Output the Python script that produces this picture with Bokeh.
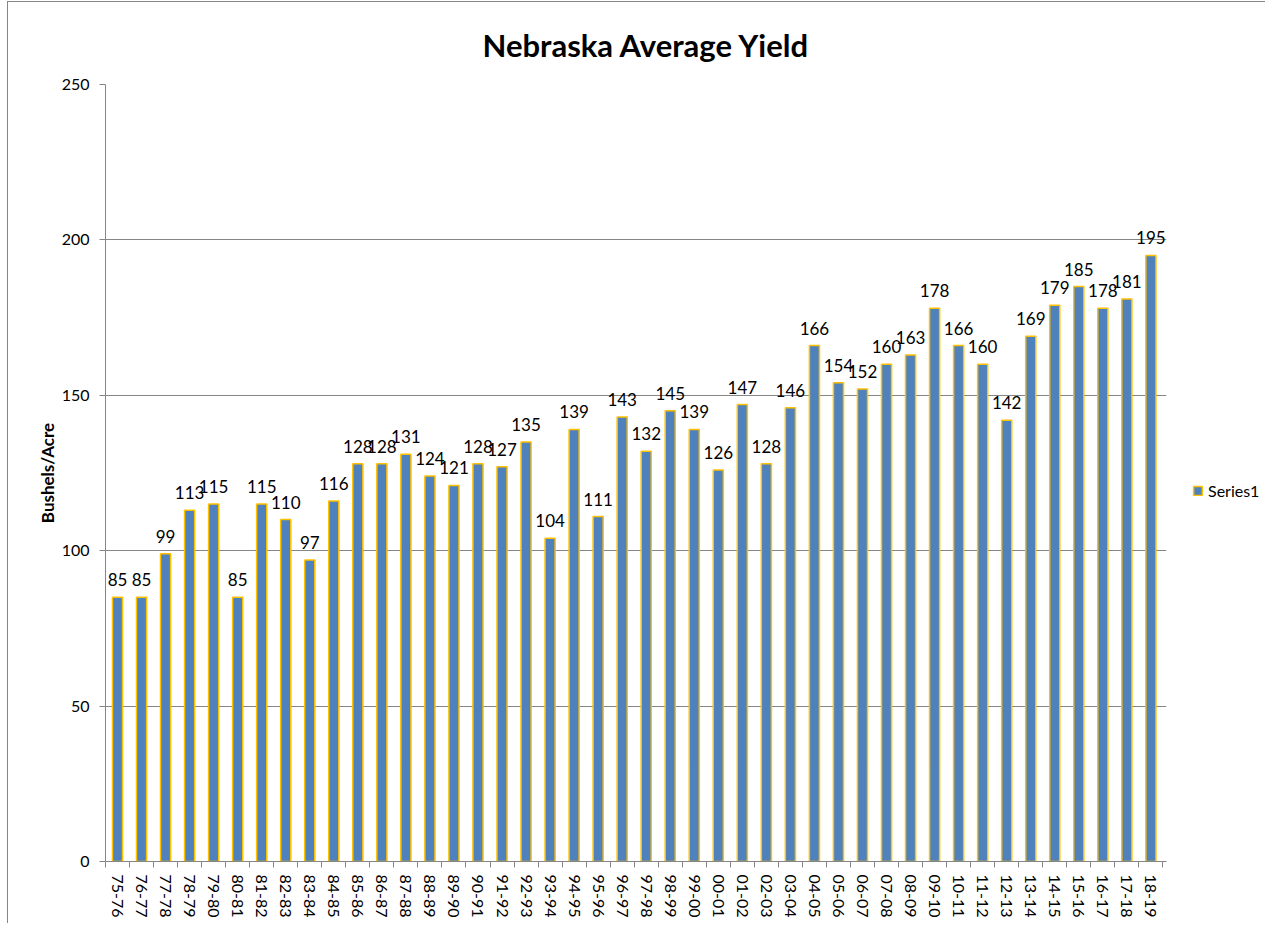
from bokeh.plotting import figure
from bokeh.models import ColumnDataSource, Range1d, FixedTicker, Legend, LegendItem
from bokeh.embed import file_html
from bokeh.resources import INLINE
from bokeh.core.properties import value

seasons = ["75-76", "76-77", "77-78", "78-79", "79-80", "80-81", "81-82", "82-83", "83-84", "84-85",
           "85-86", "86-87", "87-88", "88-89", "89-90", "90-91", "91-92", "92-93", "93-94", "94-95",
           "95-96", "96-97", "97-98", "98-99", "99-00", "00-01", "01-02", "02-03", "03-04", "04-05",
           "05-06", "06-07", "07-08", "08-09", "09-10", "10-11", "11-12", "12-13", "13-14", "14-15",
           "15-16", "16-17", "17-18", "18-19"]
yields = [85, 85, 99, 113, 115, 85, 115, 110, 97, 116,
          128, 128, 131, 124, 121, 128, 127, 135, 104, 139,
          111, 143, 132, 145, 139, 126, 147, 128, 146, 166,
          154, 152, 160, 163, 178, 166, 160, 142, 169, 179,
          185, 178, 181, 195]
y_ticks = [0, 50, 100, 150, 200, 250]
series_name = "Series1"
title_text = "Nebraska Average Yield"
y_label = "Bushels/Acre"

FONT = "Lato"
GRID = "#868686"

n = len(seasons)
idx = list(range(n))
src = ColumnDataSource(dict(x=idx, y=yields, lab=[str(v) for v in yields]))

RIGHT_PAD = 0.15  # small room so the last data label is not clipped

p = figure(frame_width=1061, frame_height=777,
           x_range=Range1d(-0.5, n - 0.5 + RIGHT_PAD), y_range=Range1d(y_ticks[0], y_ticks[-1]),
           output_backend="svg", toolbar_location=None,
           min_border_left=97, min_border_right=92, min_border_top=82, min_border_bottom=62)
p.styles = {"border-left": "1px solid #868686", "border-top": "1px solid #868686",
            "margin-left": "7px", "margin-top": "1px"}
p.outline_line_color = None
p.background_fill_color = "white"
p.border_fill_color = "white"

p.title.text = title_text
p.title.align = "left"
p.title.offset = 377
p.title.text_font = FONT
p.title.text_font_size = "31px"
p.title.text_font_style = "bold"
p.title.text_color = "#000000"
p.title.standoff = 42

r = p.vbar(x="x", top="y", width=0.42, bottom=0, source=src,
           fill_color="#4F81BD", line_color="#FFC000", line_width=1.5)

p.text(x="x", y="y", text="lab", source=src, text_align="center", text_baseline="bottom",
       y_offset=-11, text_font=value(FONT), text_font_size="17px", text_color="#000000")

# x axis: labels at category centres, ticks at category boundaries
xa = p.xaxis[0]
xa.ticker = FixedTicker(ticks=idx, minor_ticks=[i - 0.5 for i in range(n + 1)])
xa.major_label_overrides = {i: s for i, s in zip(idx, seasons)}
xa.major_label_orientation = "vertical"
xa.major_tick_out = 0
xa.major_tick_in = 0
xa.minor_tick_out = 6
xa.minor_tick_in = 0
xa.minor_tick_line_color = GRID
xa.axis_line_color = GRID
xa.major_label_text_font = FONT
xa.major_label_text_font_size = "16px"
xa.major_label_text_color = "#000000"
xa.major_label_standoff = 7

ya = p.yaxis[0]
ya.ticker = FixedTicker(ticks=y_ticks)
ya.major_tick_out = 6
ya.major_tick_in = 0
ya.minor_tick_line_color = None
ya.major_tick_line_color = GRID
ya.axis_line_color = GRID
ya.major_label_text_font = FONT
ya.major_label_text_font_size = "16px"
ya.major_label_text_color = "#000000"
ya.major_label_standoff = 10
ya.axis_label = y_label
ya.axis_label_text_font = FONT
ya.axis_label_text_font_size = "17px"
ya.axis_label_text_font_style = "bold"
ya.axis_label_text_color = "#000000"
ya.axis_label_standoff = 1

p.xgrid.grid_line_color = None
p.ygrid.grid_line_color = GRID
p.ygrid.grid_line_width = 1

legend = Legend(items=[LegendItem(label=series_name, renderers=[r])],
                location=(26, 361), orientation="vertical",
                border_line_color=None, background_fill_alpha=0,
                glyph_width=11, glyph_height=11, label_text_font=FONT,
                label_text_font_size="16px", label_text_color="#000000",
                label_standoff=5, padding=0, margin=0)
p.add_layout(legend, "right")

open("out.html", "w").write(file_html(p, INLINE))
